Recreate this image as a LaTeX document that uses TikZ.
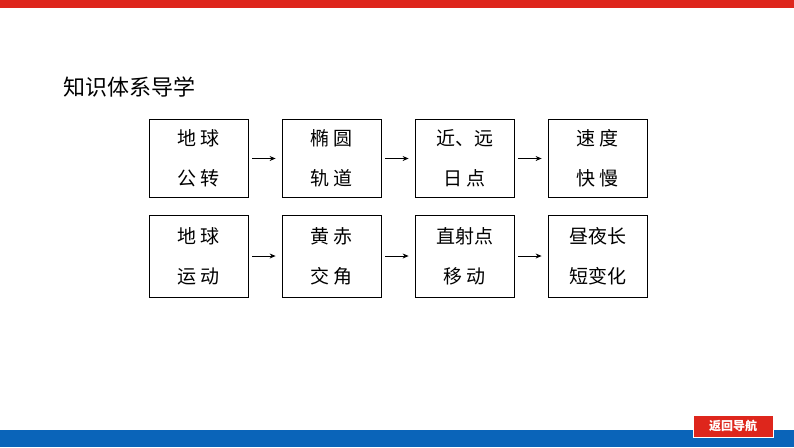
\documentclass[tikz,border=0pt]{standalone}
\usepackage{fontspec}
\setmainfont{Noto Sans CJK SC}
\usetikzlibrary{positioning,arrows.meta}
\definecolor{barred}{RGB}{222,38,28}
\definecolor{barblue}{RGB}{10,100,185}
\tikzset{
  stage/.style={draw, thick, minimum width=99pt, minimum height=78pt, inner sep=0pt,
    align=center, font=\fontsize{19}{40}\selectfont},
  link/.style={-{Stealth[length=6pt,width=5pt]}, thick}
}
\begin{document}
\begin{tikzpicture}[x=1pt,y=-1pt]
\useasboundingbox (0,0) rectangle (794,447);
% bars
\fill[barred] (0,0) rectangle (794,8);
\fill[barblue] (0,430) rectangle (794,447);
\node[fill=barred, draw=white, minimum width=80pt, minimum height=22pt, text=white,
  font=\bfseries\fontsize{12}{12}\selectfont] (back) at (733,426) {返回导航};
% title
\node[anchor=west, font=\fontsize{22}{22}\selectfont] (title) at (60,87) {知识体系导学};
% row 1
\node[stage] (a1) at (198.5,158.5) {地\,球\\公\,转};
\node[stage] (a2) at (331.5,158.5) {椭\,圆\\轨\,道};
\node[stage] (a3) at (464.5,158.5) {近、远\\日\,点};
\node[stage] (a4) at (597.5,158.5) {速\,度\\快\,慢};
% row 2
\node[stage, minimum height=82pt] (b1) at (198.5,256) {地\,球\\运\,动};
\node[stage, minimum height=82pt] (b2) at (331.5,256) {黄\,赤\\交\,角};
\node[stage, minimum height=82pt] (b3) at (464.5,256) {直射点\\移\,动};
\node[stage, minimum height=82pt] (b4) at (597.5,256) {昼夜长\\短变化};
\foreach \r in {a,b}{
  \draw[link] ([xshift=4pt]\r1.east) -- ([xshift=-6pt]\r2.west);
  \draw[link] ([xshift=4pt]\r2.east) -- ([xshift=-6pt]\r3.west);
  \draw[link] ([xshift=4pt]\r3.east) -- ([xshift=-6pt]\r4.west);
}
\end{tikzpicture}
\end{document}
